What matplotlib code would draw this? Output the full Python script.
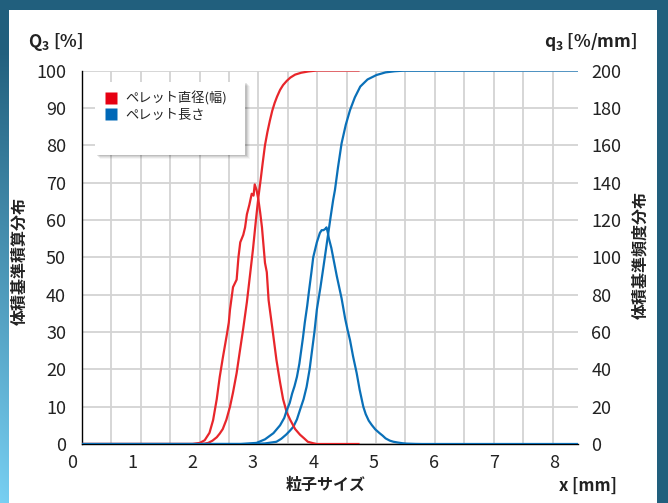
import numpy as np
import matplotlib
matplotlib.use("Agg")
import matplotlib.pyplot as plt
from matplotlib.patches import Rectangle
from matplotlib.lines import Line2D

plt.rcParams['font.family'] = ['Noto Sans CJK JP', 'DejaVu Sans']

# --- data ---
# pellet diameter (width): cumulative Q3 [%] and frequency q3 [%/mm]
red_cum_x = [0.17, 2.10, 2.20, 2.26, 2.33, 2.40, 2.45, 2.50, 2.56, 2.62, 2.67, 2.73,
             2.78, 2.84, 2.90, 2.95, 3.00, 3.05, 3.09, 3.13, 3.16, 3.20, 3.24, 3.28,
             3.32, 3.36, 3.40, 3.45, 3.50, 3.56, 3.62, 3.70, 3.80, 3.92, 4.06, 4.75]
red_cum_y = [0, 0, 0.1, 0.3, 0.9, 1.8, 2.8, 4.0, 6.5, 10, 13.8, 19,
             24.5, 31, 38, 45, 52, 60, 66, 71, 75, 80, 83.5, 86.5,
             89.2, 91.3, 93, 94.8, 96.1, 97.2, 98.1, 98.9, 99.4, 99.75, 100, 100]
red_den_x = [0.17, 2.00, 2.12, 2.20, 2.28, 2.34, 2.40, 2.45, 2.50, 2.57, 2.60, 2.62, 2.67,
             2.70, 2.73, 2.76, 2.79, 2.84, 2.87, 2.90, 2.94, 2.98, 3.01, 3.03, 3.06,
             3.09, 3.12, 3.15, 3.20, 3.23, 3.26, 3.33, 3.39, 3.45, 3.50, 3.56, 3.62,
             3.70, 3.78, 3.85, 3.91, 4.00, 4.06, 4.75]
red_den_y = [0, 0, 0.6, 2, 6, 12.8, 24, 36, 46, 59, 65, 72, 84,
             86, 88, 100, 108, 112, 116, 123, 128, 134, 133, 139, 136,
             131, 124, 116, 97, 92, 77, 60, 45, 33, 24, 17, 12.8,
             8, 5, 3, 1.2, 0.4, 0, 0]

# pellet length: cumulative Q3 [%] and frequency q3 [%/mm]
blue_cum_x = [0.17, 3.00, 3.20, 3.39, 3.47, 3.55, 3.61, 3.67, 3.73, 3.78, 3.84, 3.89,
              3.94, 3.98, 4.02, 4.06, 4.12, 4.17, 4.21, 4.25, 4.29, 4.33, 4.36, 4.41,
              4.47, 4.54, 4.61, 4.69, 4.78, 4.90, 5.05, 5.20, 5.35, 5.49, 8.39]
blue_cum_y = [0, 0, 0.15, 0.6, 1.4, 2.5, 3.5, 4.6, 6.6, 9.1, 12, 15.3,
              20, 25, 30, 36, 42, 47.5, 52, 56.5, 61, 65.3, 68, 74,
              80.5, 85.5, 89.4, 92.8, 95.7, 97.6, 98.8, 99.5, 99.8, 99.95, 100]
blue_den_x = [0.17, 2.80, 3.06, 3.20, 3.34, 3.45, 3.52, 3.56, 3.61, 3.65, 3.69, 3.73,
              3.77, 3.80, 3.83, 3.86, 3.90, 3.93, 3.97, 4.00, 4.03, 4.06, 4.09, 4.11,
              4.14, 4.17, 4.20, 4.22, 4.24, 4.26, 4.30, 4.33, 4.39, 4.43, 4.47, 4.53,
              4.57, 4.61, 4.66, 4.72, 4.77, 4.83, 4.87, 4.92, 4.97, 5.03, 5.10, 5.15,
              5.20, 5.27, 5.33, 5.40, 5.48, 5.55, 5.70, 5.80, 8.39]
blue_den_y = [0, 0, 0.6, 2.5, 5.8, 10, 14, 18, 22, 27, 31, 36,
              43, 50, 57, 65, 74, 82, 92, 100, 104, 108, 111, 113,
              114.5, 114.5, 115.2, 116, 113.5, 110, 105, 100, 90, 84, 78, 67,
              61, 55.6, 47, 38, 29, 20, 16, 12.5, 10.2, 7.8, 5.8, 4.5,
              3, 1.8, 1.2, 0.8, 0.4, 0.2, 0.05, 0, 0]

x_tick_vals = [0, 1, 2, 3, 4, 5, 6, 7, 8]
left_ticks = list(range(0, 101, 10))
right_ticks = list(range(0, 201, 20))

RED = '#e8262b'
BLUE = '#0a70b8'

W, H = 668, 503
fig = plt.figure(figsize=(W / 100, H / 100), dpi=100)

# background frame (gradient) + white panel
bg = fig.add_axes([0, 0, 1, 1], zorder=-10)
yy, xx = np.mgrid[0:1:H * 1j, 0:1:W * 1j]
t = np.clip((yy - 0.1) / 0.9, 0, 1) * np.clip(1 - xx * 1.6, 0, 1)
dark = np.array([0x22, 0x60, 0x7e]) / 255
light = np.array([0x78, 0xd0, 0xf3]) / 255
img = dark[None, None, :] * (1 - t[..., None]) + light[None, None, :] * t[..., None]
bg.imshow(img, aspect='auto', extent=[0, 1, 0, 1], origin='upper')
bg.axis('off')
fig.add_artist(Rectangle((9 / W, 0), (657 - 9) / W, 1 - 9.5 / H, transform=fig.transFigure,
                         facecolor='white', edgecolor='none', zorder=-5))

# main axes (pixel box 82..578 x 70.5..444)
L, R, T, B = 82, 578, 70.5, 444
ax = fig.add_axes([L / W, 1 - B / H, (R - L) / W, (B - T) / H])
ax.set_facecolor('none')
ax2 = ax.twinx()

xmin, xmax = 0.166, 8.39
ax.set_xlim(xmin, xmax)
ax.set_ylim(0, 100)
ax2.set_ylim(0, 200)

# gridlines (vertical ones are not aligned with the numeric labels)
grid_step = 0.4876
ax.set_xticks([xmin + k * grid_step for k in range(1, 17)])
ax.set_xticklabels([])
ax.set_yticks(left_ticks)
ax.grid(True, color='#d3d3d3', linewidth=1.3)
ax.set_axisbelow(True)
ax.tick_params(axis='x', length=0)
ax.tick_params(axis='y', length=0, pad=11.5, labelsize=13, labelcolor='#222222')
ax2.set_yticks(right_ticks)
ax2.tick_params(axis='y', length=0, pad=9.5, labelsize=13, labelcolor='#222222')

for a in (ax, ax2):
    for s in ('top', 'right'):
        a.spines[s].set_visible(False)
ax2.spines['left'].set_visible(False)
ax2.spines['bottom'].set_visible(False)
ax.spines['left'].set_linewidth(1.0)
ax.spines['bottom'].set_linewidth(1.0)

# curves
ax.plot(red_cum_x, red_cum_y, color=RED, lw=1.6, zorder=3)
ax.plot(blue_cum_x, blue_cum_y, color=BLUE, lw=1.6, zorder=4)
ax2.plot(red_den_x, red_den_y, color=RED, lw=1.6, zorder=3)
ax2.plot(blue_den_x, blue_den_y, color=BLUE, lw=1.6, zorder=4)

# x tick labels (placed off the spine, as in the original)
for v in x_tick_vals:
    ax.text(v, -19 / (B - T), str(v), transform=ax.get_xaxis_transform(),
            ha='center', va='center', fontsize=13, color='#222222', clip_on=False)

# axis titles
fig.text(28 / W, 1 - 42 / H, r'Q$_{\mathregular{3}}$ [%]', fontsize=12.5, fontweight='bold',
         ha='left', va='center', color='#222222')
fig.text(637 / W, 1 - 42 / H, r'q$_{\mathregular{3}}$ [%/mm]', fontsize=12.5, fontweight='bold',
         ha='right', va='center', color='#222222')
fig.text(20 / W, 1 - 261 / H, '体積基準積算分布', rotation=90, fontsize=11.5, fontweight='bold',
         ha='center', va='center', color='#222222')
fig.text(640 / W, 1 - 255 / H, '体積基準頻度分布', rotation=90, fontsize=11.5, fontweight='bold',
         ha='center', va='center', color='#222222')
fig.text(326 / W, 1 - 485 / H, '粒子サイズ', fontsize=11.5, fontweight='bold',
         ha='center', va='center', color='#222222')
fig.text(617 / W, 1 - 486 / H, 'x [mm]', fontsize=12, fontweight='bold',
         ha='right', va='center', color='#222222')

# legend box with soft shadow
bx0, by0, bx1, by1 = 95, 82, 245, 155
for k, a in enumerate([0.10, 0.08, 0.06, 0.04]):
    off = k + 1
    fig.add_artist(Rectangle(((bx0 + off + 1) / W, 1 - (by1 + off) / H), (bx1 - bx0) / W,
                             (by1 - by0) / H, transform=fig.transFigure,
                             facecolor='black', alpha=a, edgecolor='none', zorder=4))
fig.add_artist(Rectangle((bx0 / W, 1 - by1 / H), (bx1 - bx0) / W, (by1 - by0) / H,
                         transform=fig.transFigure, facecolor='white', edgecolor='none',
                         zorder=5))
handles = [Line2D([], [], marker='s', color='none', markerfacecolor='#e60012',
                  markeredgecolor='none', markersize=8),
           Line2D([], [], marker='s', color='none', markerfacecolor='#0068b7',
                  markeredgecolor='none', markersize=8)]
leg = fig.legend(handles, ['ペレット直径(幅)', 'ペレット長さ'], loc='upper left',
                 bbox_to_anchor=(104 / W, 1 - 91 / H), frameon=False, fontsize=9.5,
                 handlelength=1.0, handletextpad=0.6, labelspacing=0.3,
                 borderpad=0, borderaxespad=0)
leg.set_zorder(10)
for txt in leg.get_texts():
    txt.set_color('#222222')

fig.savefig('out.png', dpi=100)
